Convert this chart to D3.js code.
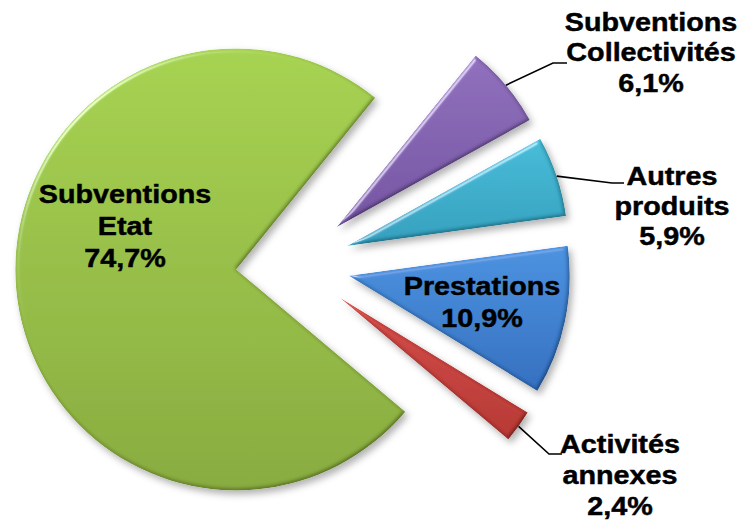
<!DOCTYPE html>
<html>
<head>
<meta charset="utf-8">
<script src="https://cdn.jsdelivr.net/npm/d3@7"></script>
<style>
  html, body { margin: 0; padding: 0; background: #ffffff; }
  svg { display: block; }
  text { font-family: "Liberation Sans", Arial, sans-serif; font-weight: bold; fill: #000; stroke: #000; stroke-width: 0.45px; }
</style>
</head>
<body>
<script>
// ---- data ----
const categories = ["Subventions Collectivités", "Autres produits", "Prestations", "Activités annexes", "Subventions Etat"];
const nameLines = [["Subventions", "Collectivités"], ["Autres", "produits"], ["Prestations"], ["Activités", "annexes"], ["Subventions", "Etat"]];
const values = [6.1, 5.9, 10.9, 2.4, 74.7];
const percentLabels = ["6,1%", "5,9%", "10,9%", "2,4%", "74,7%"];

// ---- styles / layout ----
const colorsTop = ["#9070bd", "#46bcd8", "#4a92e0", "#d44b47", "#a6d250"];
const colorsBottom = ["#7454a2", "#339fbd", "#336fbf", "#b63733", "#88ab3e"];
const W = 742, H = 524;
const cx = 293, cy = 264, R = 221, explode = 57;
const startDeg = 39;
// label anchor (center x, first baseline y, line height), leader elbow/end (null = inside label)
const labelLayout = [
  { x: 651, y: 31, lh: 30.5, elbow: [553, 63], end: [567, 63] },
  { x: 672, y: 185, lh: 30, elbow: [612, 183], end: [624, 183] },
  { x: 482, y: 295, lh: 32, elbow: null },
  { x: 620, y: 453, lh: 31, elbow: [549, 454], end: [562, 454] },
  { x: 125, y: 203, lh: 32, elbow: null }
];

const svg = d3.select("body").append("svg").attr("width", W).attr("height", H);
const defs = svg.append("defs");

// gradients
values.forEach((v, i) => {
  const g = defs.append("linearGradient").attr("id", "grad" + i)
    .attr("x1", 0).attr("y1", 0).attr("x2", 0).attr("y2", 1);
  g.append("stop").attr("offset", "0%").attr("stop-color", colorsTop[i]);
  g.append("stop").attr("offset", "100%").attr("stop-color", colorsBottom[i]);
});

// bevel + shadow filter
const f = defs.append("filter").attr("id", "bevel")
  .attr("x", "-20%").attr("y", "-20%").attr("width", "140%").attr("height", "140%");
f.append("feGaussianBlur").attr("in", "SourceAlpha").attr("stdDeviation", 2).attr("result", "blur");
const dl = f.append("feDiffuseLighting").attr("in", "blur").attr("surfaceScale", 2.5)
  .attr("diffuseConstant", 1.0 / Math.sin(65 * Math.PI / 180)).attr("lighting-color", "#ffffff").attr("result", "diff");
dl.append("feDistantLight").attr("azimuth", 225).attr("elevation", 65);
const sl = f.append("feSpecularLighting").attr("in", "blur").attr("surfaceScale", 2.5)
  .attr("specularConstant", 0.6).attr("specularExponent", 40).attr("lighting-color", "#ffffff").attr("result", "spec");
sl.append("feDistantLight").attr("azimuth", 225).attr("elevation", 35);
f.append("feComposite").attr("in", "spec").attr("in2", "SourceAlpha").attr("operator", "in").attr("result", "specIn");
f.append("feComposite").attr("in", "SourceGraphic").attr("in2", "diff").attr("operator", "arithmetic")
  .attr("k1", 1).attr("k2", 0).attr("k3", 0).attr("k4", 0).attr("result", "lit");
f.append("feComposite").attr("in", "lit").attr("in2", "specIn").attr("operator", "arithmetic")
  .attr("k1", 0).attr("k2", 1).attr("k3", 0.8).attr("k4", 0).attr("result", "litSpec");
f.append("feComposite").attr("in", "litSpec").attr("in2", "SourceAlpha").attr("operator", "in").attr("result", "shape");
f.append("feGaussianBlur").attr("in", "SourceAlpha").attr("stdDeviation", 3.5).attr("result", "sblur");
f.append("feOffset").attr("in", "sblur").attr("dx", 3).attr("dy", 4).attr("result", "soff");
f.append("feFlood").attr("flood-color", "#000").attr("flood-opacity", 0.3).attr("result", "sc");
f.append("feComposite").attr("in", "sc").attr("in2", "soff").attr("operator", "in").attr("result", "shadow");
const m = f.append("feMerge");
m.append("feMergeNode").attr("in", "shadow");
m.append("feMergeNode").attr("in", "shape");

const rad = d => d * Math.PI / 180;
const pie = d3.pie().sort(null).value(d => d)
  .startAngle(rad(startDeg)).endAngle(rad(startDeg) + 2 * Math.PI);
const arcs = pie(values);
const arc = d3.arc().innerRadius(0).outerRadius(R);

function sliceCenter(a) {
  const mid = (a.startAngle + a.endAngle) / 2;
  return [cx + explode * Math.sin(mid), cy - explode * Math.cos(mid)];
}

svg.append("g").selectAll("path").data(arcs).join("path")
  .attr("transform", d => { const c = sliceCenter(d); return `translate(${c[0]},${c[1]})`; })
  .attr("d", arc)
  .attr("fill", (d, i) => `url(#grad${i})`)
  .attr("filter", "url(#bevel)");

// leader lines
const lg = svg.append("g");
arcs.forEach((a, i) => {
  const L = labelLayout[i];
  if (!L.elbow) return;
  const c = sliceCenter(a);
  const mid = (a.startAngle + a.endAngle) / 2;
  const p0 = [c[0] + R * Math.sin(mid), c[1] - R * Math.cos(mid)];
  lg.append("path")
    .attr("d", d3.line()([p0, L.elbow, L.end]))
    .attr("fill", "none").attr("stroke", "#000").attr("stroke-width", 1.6);
});

// labels
const tg = svg.append("g");
arcs.forEach((a, i) => {
  const L = labelLayout[i];
  const lines = nameLines[i].concat([percentLabels[i]]);
  const g = tg.append("g").attr("transform", `translate(${L.x},${L.y}) scale(1.15,1)`);
  lines.forEach((t, k) => {
    g.append("text").attr("x", 0).attr("y", k * L.lh)
      .attr("text-anchor", "middle").attr("font-size", 25).text(t);
  });
});
</script>
</body>
</html>
